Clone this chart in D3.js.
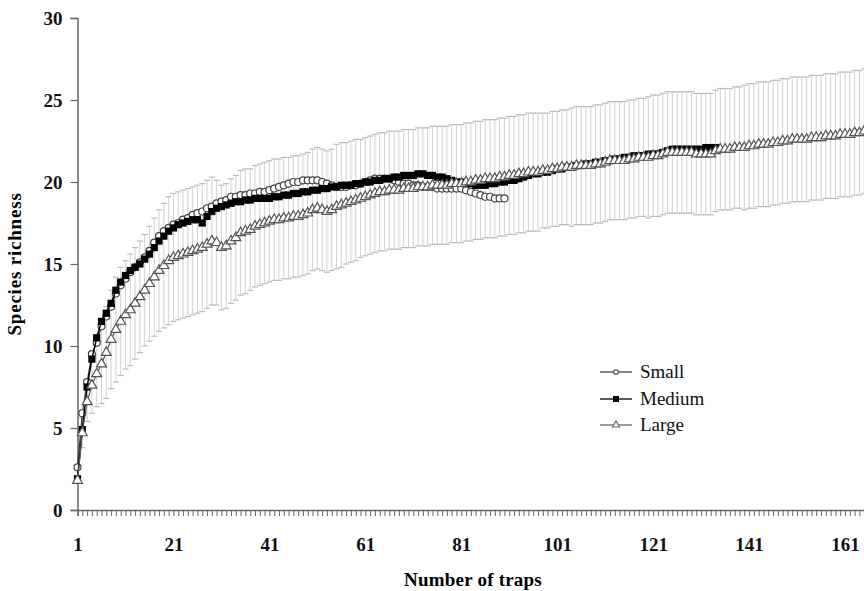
<!DOCTYPE html>
<html>
<head>
<meta charset="utf-8">
<script src="https://cdn.jsdelivr.net/npm/d3@7"></script>
<style>
  html, body { margin: 0; padding: 0; background: #fff; }
  svg { display: block; }
  text { font-family: "Liberation Serif", "Times New Roman", serif; }
</style>
</head>
<body>
<svg id="chart" width="864" height="591"></svg>
<script>
// ---------- data ----------
const xTickLabels = ["1", "21", "41", "61", "81", "101", "121", "141", "161"];
const yTickValues = [0, 5, 10, 15, 20, 25, 30];
const seriesNames = ["Small", "Medium", "Large"];

// species richness per number of traps (index 0 = 1 trap)
const small = [
  2.6, 5.9, 7.8, 9.5, 10.2, 11.2, 11.8, 12.4, 13.2, 13.7,
  14.1, 14.5, 14.8, 15.1, 15.4, 15.8, 16.3, 16.7, 17.0, 17.2,
  17.4, 17.5, 17.7, 17.8, 18.0, 18.1, 18.2, 18.4, 18.5, 18.7,
  18.8, 18.9, 19.1, 19.1, 19.2, 19.2, 19.3, 19.3, 19.4, 19.4,
  19.5, 19.6, 19.7, 19.8, 19.9, 20.0, 20.0, 20.1, 20.1, 20.1,
  20.1, 20.0, 19.9, 19.8, 19.7, 19.7, 19.7, 19.8, 19.8, 19.9,
  20.0, 20.1, 20.2, 20.2, 20.2, 20.2, 20.1, 20.0, 19.9, 19.9,
  19.8, 19.8, 19.7, 19.7, 19.7, 19.6, 19.6, 19.6, 19.6, 19.6,
  19.6, 19.5, 19.4, 19.3, 19.2, 19.1, 19.1, 19.0, 19.0, 19.0
];
const medium = [
  1.9, 4.9, 7.5, 9.2, 10.5, 11.5, 12.0, 12.6, 13.4, 13.9,
  14.3, 14.6, 14.8, 15.0, 15.3, 15.6, 16.0, 16.4, 16.7, 17.0,
  17.2, 17.4, 17.5, 17.6, 17.7, 17.7, 17.5, 17.9, 18.2, 18.4,
  18.5, 18.6, 18.7, 18.8, 18.8, 18.9, 18.9, 19.0, 19.0, 19.0,
  19.0, 19.1, 19.1, 19.2, 19.2, 19.3, 19.3, 19.4, 19.4, 19.5,
  19.5, 19.6, 19.6, 19.7, 19.7, 19.8, 19.8, 19.8, 19.9, 19.9,
  20.0, 20.0, 20.1, 20.1, 20.2, 20.2, 20.3, 20.3, 20.4, 20.4,
  20.4, 20.5, 20.5, 20.4, 20.4, 20.3, 20.3, 20.2, 20.1, 20.0,
  20.0, 19.9, 19.9, 19.8, 19.8, 19.8, 19.9, 19.9, 20.0, 20.0,
  20.1, 20.1, 20.2, 20.3, 20.4, 20.5, 20.5, 20.6, 20.6, 20.7,
  20.8, 20.8, 20.9, 20.9, 21.0, 21.0, 21.1, 21.1, 21.2, 21.2,
  21.3, 21.3, 21.4, 21.4, 21.5, 21.5, 21.6, 21.6, 21.6, 21.7,
  21.7, 21.7, 21.8, 21.9, 22.0, 22.0, 22.0, 22.0, 22.0, 22.0,
  22.0, 22.1, 22.1, 22.1
];
const large = [
  1.8, 4.7, 6.6, 7.6, 8.3, 8.9, 9.6, 10.4, 11.0, 11.5,
  11.9, 12.2, 12.6, 13.0, 13.4, 13.8, 14.2, 14.6, 14.9, 15.2,
  15.4, 15.5, 15.6, 15.7, 15.8, 15.9, 16.0, 16.2, 16.4, 16.3,
  16.0, 16.1, 16.4, 16.6, 16.9, 17.0, 17.1, 17.3, 17.4, 17.5,
  17.6, 17.7, 17.7, 17.8, 17.8, 17.9, 17.9, 18.0, 18.1, 18.3,
  18.4, 18.3, 18.2, 18.3, 18.5, 18.6, 18.7, 18.8, 18.9, 19.0,
  19.1, 19.2, 19.3, 19.4, 19.4, 19.5, 19.5, 19.5, 19.6, 19.6,
  19.6, 19.7, 19.7, 19.7, 19.8, 19.8, 19.8, 19.8, 19.9, 19.9,
  19.9, 20.0, 20.0, 20.1, 20.1, 20.2, 20.2, 20.2, 20.3, 20.3,
  20.4, 20.4, 20.5, 20.5, 20.6, 20.6, 20.6, 20.7, 20.7, 20.8,
  20.8, 20.9, 20.9, 20.9, 21.0, 21.0, 21.0, 21.0, 21.1, 21.1,
  21.2, 21.3, 21.3, 21.3, 21.3, 21.4, 21.4, 21.5, 21.5, 21.5,
  21.6, 21.6, 21.7, 21.8, 21.8, 21.8, 21.8, 21.8, 21.8, 21.7,
  21.7, 21.7, 21.7, 21.9, 22.0, 22.0, 22.0, 22.1, 22.1, 22.1,
  22.2, 22.2, 22.3, 22.3, 22.3, 22.4, 22.4, 22.5, 22.5, 22.6,
  22.6, 22.6, 22.6, 22.7, 22.7, 22.7, 22.8, 22.8, 22.8, 22.9,
  22.9, 22.9, 23.0, 23.0, 23.1
];
// standard deviation of the Large series (error bars)
const largeSD = [
  0.0, 0.9, 1.2, 1.7, 2.0, 2.4, 2.8, 3.0, 3.2, 3.3,
  3.3, 3.4, 3.4, 3.4, 3.4, 3.5, 3.6, 3.7, 3.8, 3.9,
  3.9, 3.9, 3.9, 3.9, 3.9, 3.9, 3.9, 3.9, 3.9, 3.8,
  3.8, 3.8, 3.8, 3.8, 3.8, 3.8, 3.7, 3.7, 3.7, 3.7,
  3.7, 3.7, 3.7, 3.7, 3.7, 3.7, 3.7, 3.7, 3.7, 3.7,
  3.7, 3.7, 3.7, 3.7, 3.8, 3.8, 3.7, 3.7, 3.7, 3.6,
  3.6, 3.6, 3.6, 3.6, 3.6, 3.6, 3.6, 3.6, 3.6, 3.6,
  3.6, 3.6, 3.6, 3.6, 3.6, 3.6, 3.6, 3.6, 3.6, 3.6,
  3.6, 3.6, 3.6, 3.6, 3.6, 3.6, 3.6, 3.6, 3.6, 3.6,
  3.6, 3.6, 3.6, 3.6, 3.6, 3.6, 3.6, 3.5, 3.5, 3.5,
  3.5, 3.5, 3.5, 3.6, 3.6, 3.6, 3.6, 3.6, 3.6, 3.6,
  3.6, 3.6, 3.6, 3.6, 3.6, 3.6, 3.6, 3.6, 3.6, 3.7,
  3.7, 3.7, 3.7, 3.7, 3.7, 3.7, 3.7, 3.7, 3.7, 3.7,
  3.7, 3.7, 3.7, 3.7, 3.7, 3.7, 3.7, 3.7, 3.7, 3.8,
  3.8, 3.8, 3.8, 3.8, 3.8, 3.8, 3.8, 3.8, 3.8, 3.8,
  3.8, 3.8, 3.8, 3.8, 3.8, 3.8, 3.8, 3.8, 3.8, 3.8,
  3.8, 3.8, 3.8, 3.8, 3.8
];

// ---------- chart ----------
const svg = d3.select("#chart");
const x = d3.scaleLinear().domain([1, 165]).range([77.5, 864.2]);
const y = d3.scaleLinear().domain([0, 30]).range([510, 18]);

const toPts = arr => arr.map((v, i) => ({ t: i + 1, v }));

// error bars (Large ± SD)
const eb = svg.append("g").attr("class", "errorbars");
const ebData = large.map((v, i) => ({ t: i + 1, lo: v - largeSD[i], hi: v + largeSD[i] }))
  .filter(d => d.hi > d.lo);
eb.selectAll("line.v").data(ebData).join("line")
  .attr("x1", d => x(d.t)).attr("x2", d => x(d.t))
  .attr("y1", d => y(d.lo)).attr("y2", d => y(d.hi))
  .attr("stroke", "#d2d2d2").attr("stroke-width", 1);
["hi", "lo"].forEach(k => {
  eb.selectAll("line.c" + k).data(ebData).join("line")
    .attr("x1", d => x(d.t) - 3).attr("x2", d => x(d.t) + 3)
    .attr("y1", d => y(d[k])).attr("y2", d => y(d[k]))
    .attr("stroke", "#bcbcbc").attr("stroke-width", 1.2);
});

// axes
const yAxis = d3.axisLeft(y).tickValues(yTickValues).tickSize(7).tickPadding(8);
const gy = svg.append("g").attr("transform", "translate(77.5,0)").call(yAxis);
gy.select(".domain").attr("stroke", "#666").attr("stroke-width", 1.5);
gy.selectAll(".tick line").attr("stroke", "#666").attr("stroke-width", 1.2);
gy.selectAll(".tick text").attr("font-size", 19).attr("font-weight", "bold")
  .attr("font-family", "Liberation Serif, serif").attr("fill", "#111");

const catTicks = d3.range(1, 166);
const xAxis = d3.axisBottom(x).tickValues(catTicks).tickSize(6).tickPadding(22)
  .tickFormat(d => xTickLabels.includes(String(d)) ? String(d) : "");
const gx = svg.append("g").attr("transform", "translate(0,510)").call(xAxis);
gx.select(".domain").attr("stroke", "#666").attr("stroke-width", 1.5);
gx.selectAll(".tick line").attr("stroke", "#666").attr("stroke-width", 1);
gx.selectAll(".tick text").attr("font-size", 19).attr("font-weight", "bold")
  .attr("font-family", "Liberation Serif, serif").attr("fill", "#111");

// lines + markers
const line = d3.line().x(d => x(d.t)).y(d => y(d.v));

// Small
svg.append("path").datum(toPts(small)).attr("d", line)
  .attr("fill", "none").attr("stroke", "#333").attr("stroke-width", 1.2);
svg.append("g").selectAll("circle").data(toPts(small)).join("circle")
  .attr("cx", d => x(d.t)).attr("cy", d => y(d.v)).attr("r", 3.5)
  .attr("fill", "#fff").attr("stroke", "#444").attr("stroke-width", 1.2);

// Medium
svg.append("path").datum(toPts(medium)).attr("d", line)
  .attr("fill", "none").attr("stroke", "#000").attr("stroke-width", 1.5);
svg.append("g").selectAll("rect").data(toPts(medium)).join("rect")
  .attr("x", d => x(d.t) - 3.6).attr("y", d => y(d.v) - 3.6)
  .attr("width", 7.2).attr("height", 7.2).attr("fill", "#000");

// Large
const tri = d3.symbol().type(d3.symbolTriangle).size(42);
svg.append("path").datum(toPts(large)).attr("d", line)
  .attr("fill", "none").attr("stroke", "#555").attr("stroke-width", 1.2);
svg.append("g").selectAll("path").data(toPts(large)).join("path")
  .attr("transform", d => `translate(${x(d.t)},${y(d.v)})`)
  .attr("d", tri).attr("fill", "#fff").attr("stroke", "#555").attr("stroke-width", 1.2);

// axis titles
svg.append("text").attr("x", 473).attr("y", 586).attr("text-anchor", "middle")
  .attr("font-size", 19).attr("font-weight", "bold").attr("letter-spacing", "0.2")
  .text("Number of traps");
svg.append("text").attr("transform", "translate(21,264) rotate(-90)")
  .attr("text-anchor", "middle").attr("font-size", 19).attr("font-weight", "bold")
  .attr("letter-spacing", "0.8")
  .text("Species richness");

// legend
const legY = [372, 399, 425];
const leg = svg.append("g");
seriesNames.forEach((name, i) => {
  const g = leg.append("g").attr("transform", `translate(0,${legY[i]})`);
  g.append("line").attr("x1", 600).attr("x2", 632).attr("y1", 0).attr("y2", 0)
    .attr("stroke", i === 0 ? "#444" : i === 1 ? "#000" : "#666").attr("stroke-width", 1.3);
  if (i === 0) {
    g.append("circle").attr("cx", 616).attr("cy", 0).attr("r", 2.3)
      .attr("fill", "#fff").attr("stroke", "#444").attr("stroke-width", 1.1);
  } else if (i === 1) {
    g.append("rect").attr("x", 613).attr("y", -3).attr("width", 6).attr("height", 6).attr("fill", "#000");
  } else {
    g.append("path").attr("transform", "translate(616,0)")
      .attr("d", d3.symbol().type(d3.symbolTriangle).size(22))
      .attr("fill", "#fff").attr("stroke", "#666").attr("stroke-width", 1.1);
  }
  g.append("text").attr("x", 640).attr("y", 6).attr("font-size", 19).attr("fill", "#111")
    .text(name);
});
</script>
</body>
</html>
